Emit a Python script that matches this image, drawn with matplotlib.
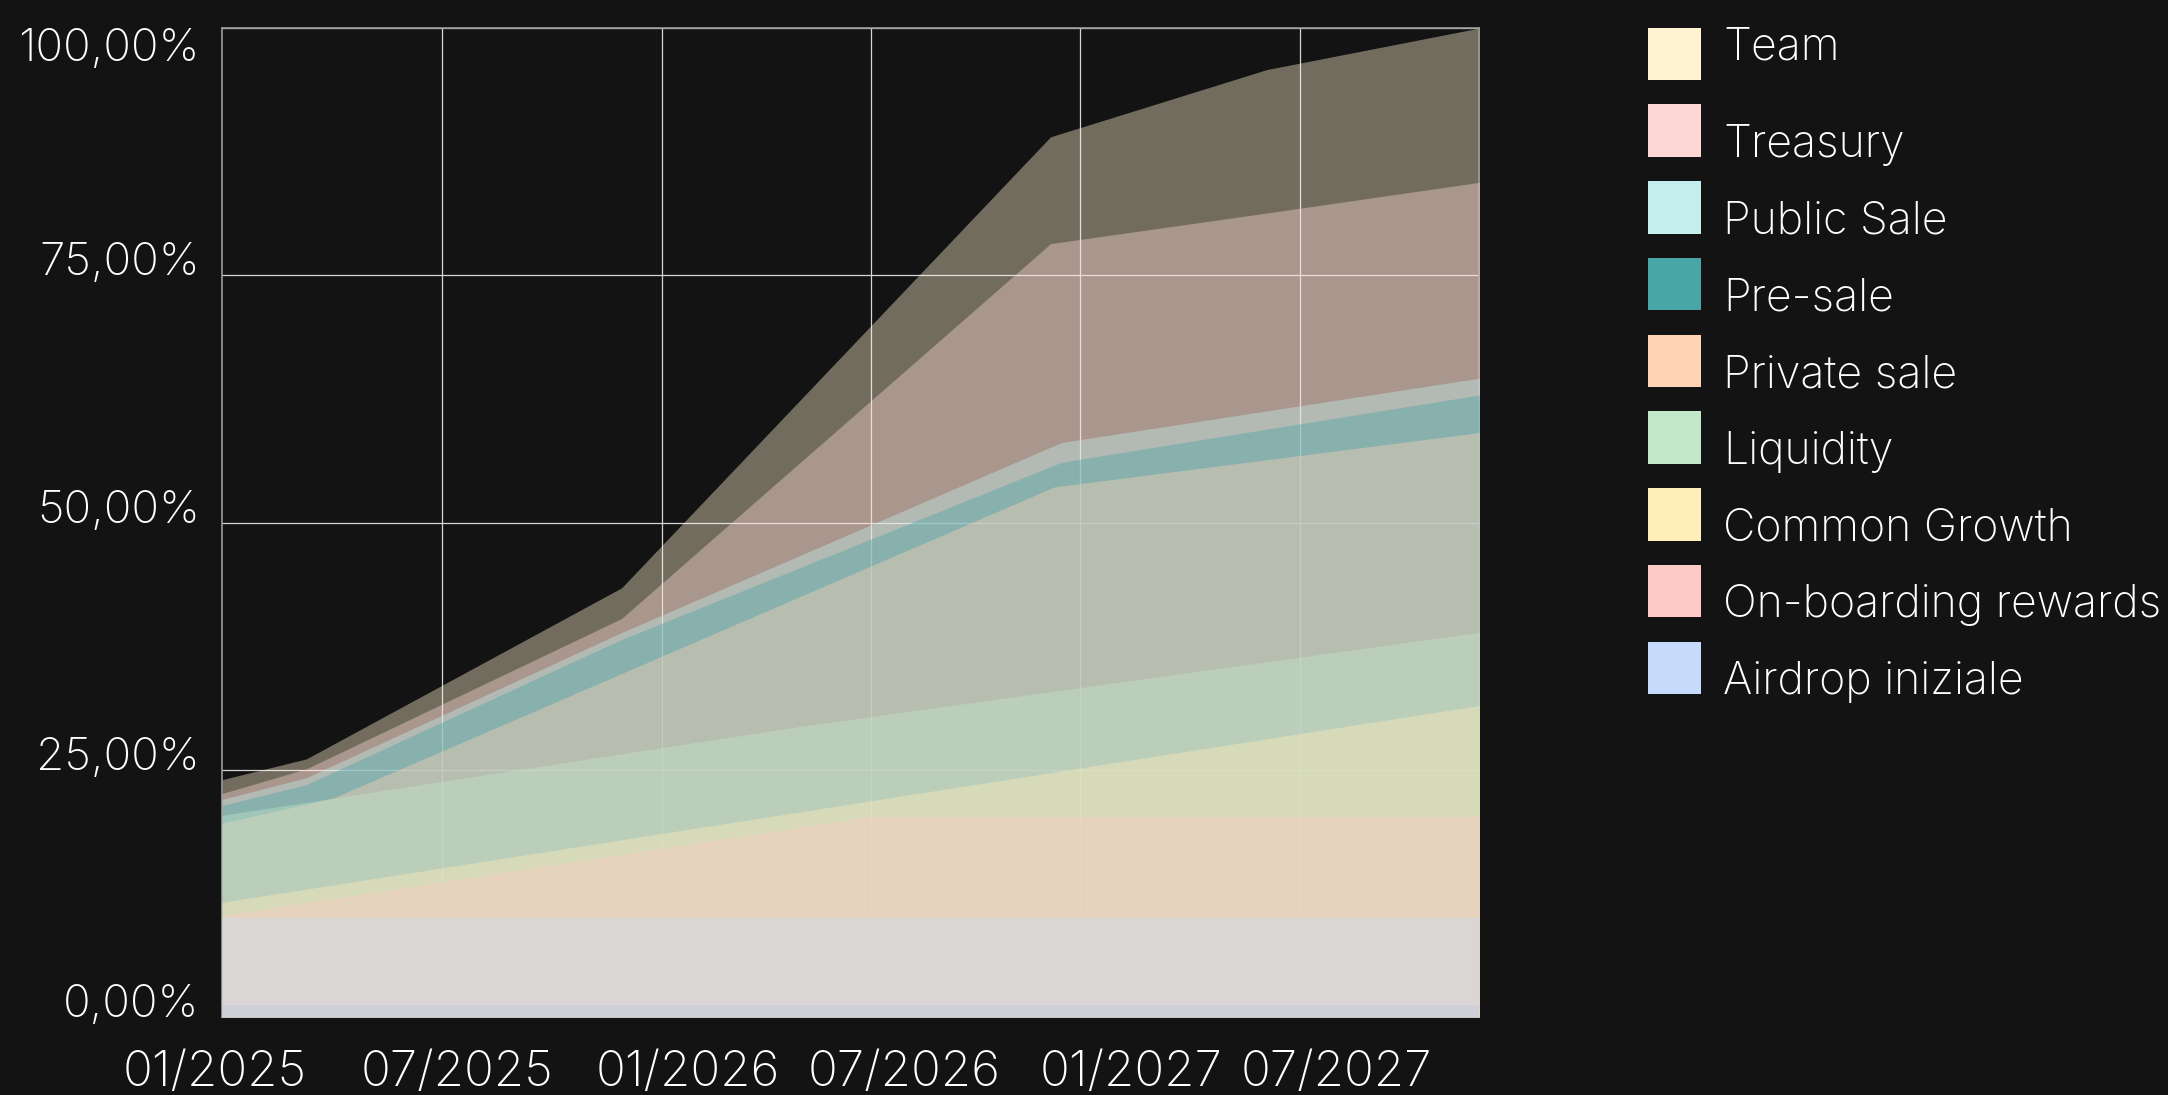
import numpy as np
import matplotlib.pyplot as plt
from matplotlib.patches import Rectangle

plt.rcParams['font.family'] = ['Inter', 'DejaVu Sans']

# serie in ordine di legenda (dall'alto verso il basso)
names = ["Team", "Treasury", "Public Sale", "Pre-sale", "Private sale",
         "Liquidity", "Common Growth", "On-boarding rewards", "Airdrop iniziale"]
colors = ["#FFF3D1", "#FFD6D6", "#C4EEEE", "#48A6A6", "#FFD3B6",
          "#C3E7CB", "#FFEEB8", "#FFC9C5", "#C6DBFB"]

# x = mesi da 01/2025, y = livello cumulato in %
team_x = [0, 2.3, 10.9, 22.6, 28.5, 34.3]
team_y = [24.0, 26.1, 43.4, 89.0, 95.8, 100.0]
treasury_x = [0, 2.3, 10.9, 22.6, 28.5, 34.3]
treasury_y = [22.6, 25.1, 40.3, 78.2, 81.3, 84.4]
public_x = [0, 2.3, 10.85, 22.9, 34.3]
public_y = [22.0, 24.2, 38.8, 58.1, 64.6]
presale_x = [0, 2.3, 10.85, 22.9, 34.3]
presale_y = [21.4, 23.5, 38.1, 56.1, 62.9]
private_x = [0, 3.0, 22.7, 34.3]
private_y = [19.6, 22.1, 53.6, 59.1]
liquidity_x = [0, 15.8, 34.3]
liquidity_y = [20.4, 29.4, 38.9]
growth_x = [0, 34.3]
growth_y = [11.6, 31.5]
onboard_x = [0, 17.7, 34.3]
onboard_y = [10.3, 20.3, 20.3]
airdrop_x = [0, 34.3]
airdrop_y = [10.0, 10.0]
base_x = [0, 34.3]
base_y = [1.2, 1.2]
base_color = "#C1C6DB"

series_x = [team_x, treasury_x, public_x, presale_x, private_x,
            liquidity_x, growth_x, onboard_x, airdrop_x]
series_y = [team_y, treasury_y, public_y, presale_y, private_y,
            liquidity_y, growth_y, onboard_y, airdrop_y]

y_ticks = [0, 25, 50, 75, 100]
y_labels = ["0,00%", "25,00%", "50,00%", "75,00%", "100,00%"]
grid_pos = [6.0, 12.0, 17.7, 23.4, 29.4]
label_pos = [-0.2, 6.4, 12.7, 18.6, 24.8, 30.4]
x_labels = ["01/2025", "07/2025", "01/2026", "07/2026", "01/2027", "07/2027"]

bg = "#131313"
W, H = 2168, 1095
fig = plt.figure(figsize=(W / 100, H / 100), dpi=100, facecolor=bg)
ax = fig.add_axes([0.1024, 0.0712, 0.58, 0.9032])
ax.set_facecolor(bg)

# ogni serie riempita dall'origine, trasparente
for i, (xs, ys) in enumerate(zip(series_x, series_y)):
    ax.fill_between(xs, 0, ys, color=colors[i], alpha=0.4, linewidth=0, zorder=2 + i)
ax.fill_between(base_x, 0, base_y, color=base_color, alpha=0.4, linewidth=0, zorder=12)

ax.set_axisbelow(True)
ax.set_yticks(y_ticks)
ax.set_yticklabels(y_labels)
ax.set_xticks(grid_pos)
ax.set_xticklabels([])
ax.set_xlim(0, 34.3)
ax.set_ylim(0, 100)
ax.grid(True, which="major", color="#d6d6d6", linewidth=0.9)
ax.tick_params(which="both", length=0)
ax.tick_params(axis="y", labelsize=33, labelcolor="white", pad=16)

# etichette delle date, non centrate sulle linee della griglia
for pos, lab in zip(label_pos, x_labels):
    ax.text(pos, -0.057, lab, transform=ax.get_xaxis_transform(), color="white",
            fontsize=35.5, fontweight="light", ha="center", va="center", clip_on=False)

for lab in ax.get_yticklabels():
    lab.set_fontweight("light")
    lab.set_verticalalignment("baseline")
ax.get_yticklabels()[-1].set_verticalalignment("top")

for s in ax.spines.values():
    s.set_color("#9c9c9c")
    s.set_linewidth(1.2)

# legenda a mano (coordinate in pixel dall'alto)
sw_left, sw_w, sw_h = 1648, 53, 52.5
first_bottom, pitch = 80, 76.75
for i, (name, c) in enumerate(zip(names, colors)):
    bottom = first_bottom + i * pitch
    fig.add_artist(Rectangle((sw_left / W, 1 - bottom / H), sw_w / W, sw_h / H,
                             transform=fig.transFigure, facecolor=c, edgecolor="none"))
    base = 59 if i == 0 else bottom
    fig.text(1723 / W, 1 - base / H, name, color="white", fontsize=32.2,
             fontweight="light", va="baseline", ha="left")

fig.savefig("out.png", dpi=100, facecolor=bg)
